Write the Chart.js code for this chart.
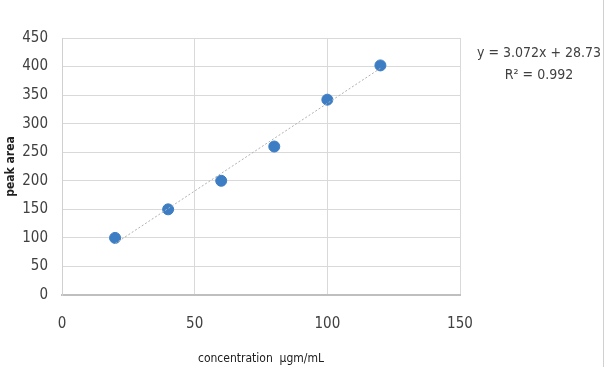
<!DOCTYPE html>
<html>
<head>
<meta charset="utf-8">
<script src="https://cdn.jsdelivr.net/npm/chart.js@4.4.0/dist/chart.umd.min.js"></script>
<style>
  html, body { margin: 0; padding: 0; background: #fff; }
  #wrap { width: 607px; height: 386px; position: relative; }
</style>
</head>
<body>
<div id="wrap"><canvas id="chart"></canvas></div>
<script>
// concentration (ug/mL) vs peak area
const concentration = [20, 40, 60, 80, 100, 120]
const peak_area = [100, 150, 200, 260, 342, 402]

// linear trendline ends as drawn
const trend_x = [20, 120]
const trend_y = [90, 397]

const equation_lines = ['y = 3.072x + 28.73', 'R\u00b2 = 0.992']

const FONT = '"Liberation Sans Narrow", "DejaVu Sans Condensed", "Liberation Sans", sans-serif'

const equation_plugin = {
    id: 'equation',
    afterDraw(chart) {
        const ctx = chart.ctx
        ctx.save()
        ctx.fillStyle = '#404040'
        ctx.font = '14px ' + FONT
        ctx.textAlign = 'center'
        ctx.textBaseline = 'middle'
        ctx.fillText(equation_lines[0], 539, 53)
        ctx.fillText(equation_lines[1], 539, 75)
        // outer frame edge on the right
        ctx.strokeStyle = '#d0d0d0'
        ctx.lineWidth = 1
        ctx.beginPath()
        ctx.moveTo(603.5, 0)
        ctx.lineTo(603.5, 367)
        ctx.stroke()
        ctx.restore()
    }
}

new Chart(document.getElementById('chart'), {
    type: 'scatter',
    data: {
        datasets: [{
            label: 'trend',
            data: trend_x.map((x, i) => ({ x: x, y: trend_y[i] })),
            showLine: true,
            borderColor: '#b0b0b0',
            borderWidth: 1,
            borderDash: [2, 2],
            pointRadius: 0
        }, {
            label: 'peak area',
            data: concentration.map((x, i) => ({ x: x, y: peak_area[i] })),
            backgroundColor: '#3d7dc4',
            borderColor: '#3d7dc4',
            pointRadius: 5.5,
            pointHoverRadius: 5.5
        }]
    },
    options: {
        responsive: true,
        maintainAspectRatio: false,
        animation: false,
        layout: { padding: { top: 38, right: 147, left: 0, bottom: 20 } },
        plugins: {
            legend: { display: false },
            tooltip: { enabled: false }
        },
        scales: {
            x: {
                type: 'linear',
                min: 0,
                max: 150,
                ticks: { stepSize: 50, padding: 20, color: '#404040', font: { family: FONT, size: 15 } },
                grid: {
                    color: ctx => ctx.tick && ctx.tick.value === 0 ? 'rgba(0,0,0,0)' : '#d9d9d9',
                    drawTicks: false
                },
                border: { color: '#bfbfbf', width: 2 },
                title: {
                    display: true,
                    text: 'concentration  \u00b5gm/mL',
                    color: '#202020',
                    font: { family: FONT, size: 12 },
                    padding: { top: 10, bottom: 0 }
                },
                afterFit(scale) { scale.height = 71 }
            },
            y: {
                min: 0,
                max: 450,
                ticks: { stepSize: 50, padding: 14, color: '#404040', font: { family: FONT, size: 15 } },
                grid: { color: '#d9d9d9', drawTicks: false },
                border: { color: '#d0d0d0' },
                title: {
                    display: true,
                    text: 'peak area',
                    color: '#202020',
                    font: { family: FONT, size: 12, weight: 'bold' },
                    padding: { bottom: 0 }
                },
                afterFit(scale) { scale.width = 62 }
            }
        }
    },
    plugins: [equation_plugin]
})
</script>
</body>
</html>
